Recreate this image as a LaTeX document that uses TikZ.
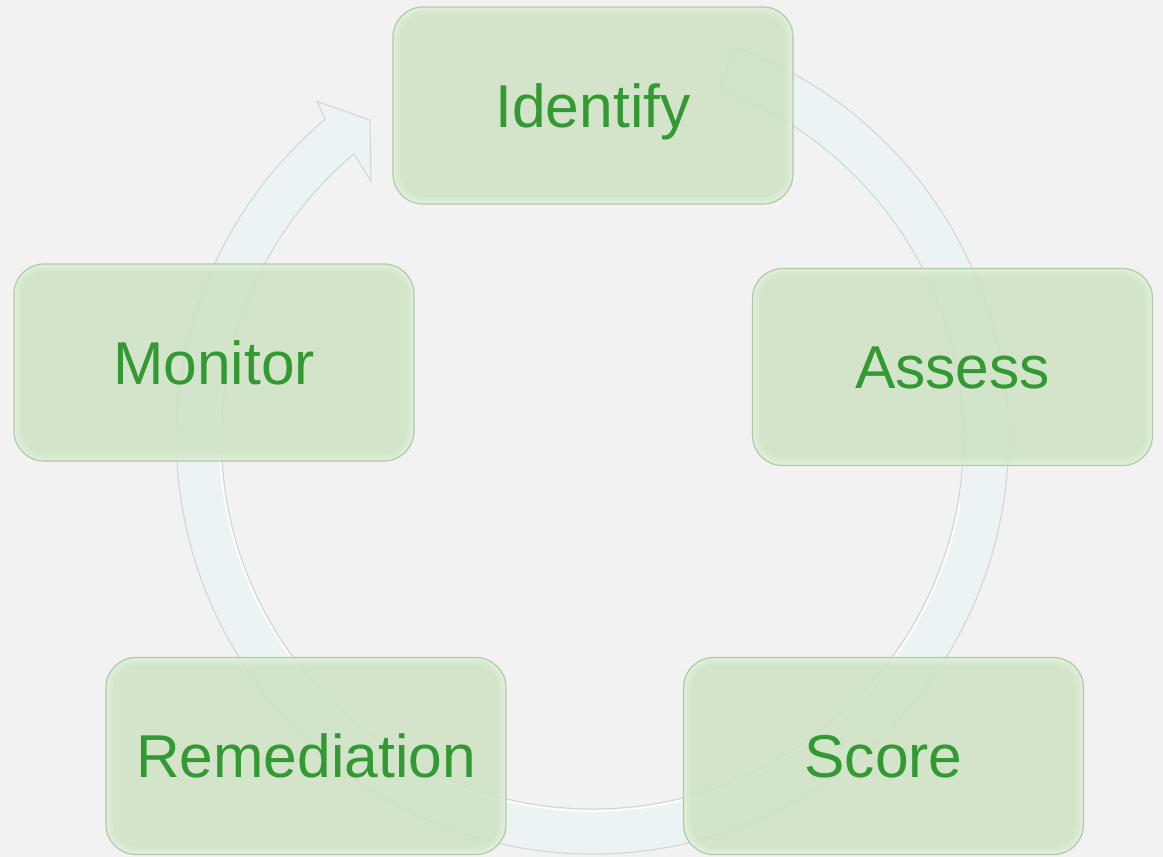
\documentclass[tikz,border=0pt]{standalone}
\usepackage{fontspec}
\setmainfont{Liberation Sans}
\definecolor{backdrop}{RGB}{242,242,242}
\definecolor{stagefill}{RGB}{206,226,196}
\definecolor{stageline}{RGB}{180,200,174}
\definecolor{stagerim}{RGB}{232,248,226}
\definecolor{stagetext}{RGB}{51,153,51}
\definecolor{ringfill}{RGB}{236,243,242}
\definecolor{ringline}{RGB}{206,213,211}
\tikzstyle{stage} = [rectangle, rounded corners=30pt,
minimum width=400pt, minimum height=197pt,
text centered, draw=stageline, line width=1.2pt,
fill=stagefill, fill opacity=0.85, text opacity=1, text=stagetext,
font=\fontsize{60.5}{70}\selectfont, text height=43pt, text depth=0pt,
path picture={
  \draw[stagerim, line width=14pt, opacity=0.25, rounded corners=30pt]
    (path picture bounding box.south west) rectangle (path picture bounding box.north east);
  \draw[stagerim, line width=7pt, opacity=0.35, rounded corners=30pt]
    (path picture bounding box.south west) rectangle (path picture bounding box.north east);}]
\tikzstyle{ring} = [fill=ringfill, draw=ringline, line width=1pt]

\begin{document}
\begin{tikzpicture}[x=1pt, y=1pt]

\fill[backdrop] (0,0) rectangle (1163,-857);
\useasboundingbox (0,0) rectangle (1163,-857);

% Cycle arrow behind the stages
\coordinate (hub) at (592.5,-438);
\begin{scope}[shift={(hub)}]
\filldraw[ring] (70:416) arc[start angle=70, end angle=-230, radius=416]
  -- (129.3:435) -- (125:388) -- (130.8:339) -- (130:371)
  arc[start angle=-230, end angle=70, radius=371] -- cycle;
\draw[white, line width=1.5pt] (-10:373) arc[start angle=-10, end angle=-190, radius=373];
\end{scope}

% Nodes
\node[stage] (identify) at (593,-105.5) {Identify};
\node[stage] (monitor) at (214,-362.5) {Monitor};
\node[stage] (assess) at (952.5,-367) {Assess};
\node[stage] (remediation) at (306,-756) {Remediation};
\node[stage] (score) at (883.5,-756) {Score};

\end{tikzpicture}
\end{document}
